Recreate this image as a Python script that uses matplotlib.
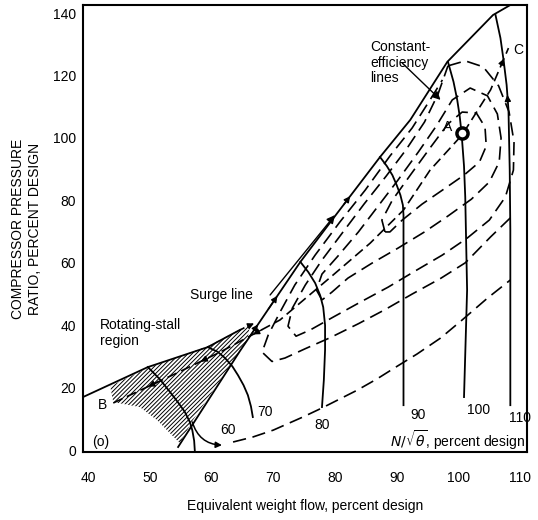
import matplotlib.pyplot as plt

plt.rcParams['font.family'] = ['Liberation Sans', 'DejaVu Sans']
plt.rcParams['hatch.linewidth'] = 0.7

# surge line and low-speed stall boundary (equivalent flow %, pressure ratio %)
surge_x = [54.6, 64.6, 74.4, 80.4, 87.3, 92.2, 98.2, 105.6, 108.4]
surge_y = [1.0, 31.7, 60.3, 76.0, 93.9, 105.8, 124.4, 139.4, 142.6]
stall_x = [39.2, 49.7, 59.4, 64.6]
stall_y = [17.0, 26.6, 33.0, 38.5]
stall_ext_x = [64.6, 66.9]
stall_ext_y = [38.5, 40.6]

# hatched rotating-stall region
hatch_x = [43.6, 49.7, 59.4, 66.3, 65.8, 61.4, 57.0, 54.9, 53.3, 51.2, 48.4, 44.1]
hatch_y = [20.5, 26.3, 33.3, 40.4, 35.3, 22.4, 9.6, 2.2, 5.4, 9.6, 13.8, 15.4]

# constant corrected-speed lines
speed_labels = ['60', '70', '80', '90', '100', '110']
speed_x = [
    [49.7, 51.6, 53.3, 54.7, 55.7, 56.5, 56.9, 57.2, 57.3],
    [59.4, 61.0, 62.2, 63.4, 64.3, 65.2, 65.9, 66.4, 66.7],
    [74.4, 75.7, 76.8, 77.6, 78.1, 78.4, 78.4, 78.2, 77.9],
    [87.3, 88.4, 89.3, 90.0, 90.6, 91.0, 91.1, 91.1, 91.1],
    [98.3, 99.2, 99.8, 100.2, 100.5, 100.9, 101.1, 101.4, 100.9],
    [106.0, 106.8, 107.3, 107.8, 108.1, 108.3, 108.4, 108.4],
]
speed_y = [
    [26.6, 22.8, 18.6, 15.0, 12.2, 9.0, 6.4, 3.0, 0.0],
    [33.0, 31.5, 29.5, 26.8, 24.0, 20.8, 17.6, 14.0, 10.6],
    [60.3, 57.0, 53.5, 49.6, 45.8, 40.0, 32.1, 22.4, 13.8],
    [93.9, 91.0, 88.1, 84.9, 81.7, 78.5, 75.3, 48.1, 14.4],
    [124.4, 118.0, 112.2, 107.0, 101.6, 91.0, 81.1, 51.3, 17.0],
    [139.4, 132.0, 125.0, 117.0, 109.0, 90.0, 70.5, 14.4],
]
speed_label_x = [62.7, 68.7, 77.9, 93.5, 103.2, 109.9]
speed_label_y = [6.4, 12.2, 8.0, 11.2, 12.8, 10.3]

# constant-efficiency lines (dashed)
eff_x = [
    [88.1, 87.6, 89.3, 92.2, 95.4, 98.3, 100.6, 102.9, 104.3, 104.5, 103.4, 100.9,
     97.7, 94.1, 90.9, 88.9, 88.1],
    [77.9, 77.0, 77.9, 80.5, 83.8, 87.0, 90.2, 93.5, 96.4, 99.0, 101.9, 104.7,
     106.3, 106.9, 106.6, 105.0, 102.1, 98.3, 94.5, 90.2, 86.0, 82.1, 79.5, 77.9],
    [98.3, 101.1, 104.0, 106.5, 108.2, 109.0, 108.9, 107.6, 105.0, 101.4, 97.4, 93.0,
     88.6, 84.1, 79.7, 76.0, 73.7, 72.4, 73.1, 75.2, 77.9, 81.2, 84.7, 88.3, 91.5,
     94.5, 96.7, 98.3],
    [108.4, 105.2, 101.1, 97.1, 92.5, 88.1, 83.8, 79.2, 75.2, 71.9, 69.8, 68.2, 69.2,
     71.1, 73.5, 76.8, 80.8, 84.9, 88.9, 92.5, 95.4, 97.4],
    [63.5, 66.7, 70.0, 74.8, 77.9, 80.4, 83.6, 86.8, 90.1, 93.3, 97.1, 100.6, 104.7, 108.4],
]
eff_y = [
    [69.9, 73.7, 80.1, 88.1, 96.8, 104.5, 108.3, 108.0, 103.5, 97.4, 92.3, 88.1,
     83.7, 78.8, 73.7, 69.9, 69.9],
    [48.1, 51.3, 56.4, 62.2, 69.9, 78.2, 86.5, 95.5, 103.8, 112.2, 116.0, 113.5,
     107.7, 100.0, 92.3, 85.9, 80.4, 75.0, 69.9, 64.7, 59.9, 55.1, 50.6, 48.1],
    [123.1, 124.7, 122.8, 116.7, 108.3, 98.7, 89.7, 81.1, 73.7, 67.9, 62.5, 57.4,
     52.2, 47.4, 42.6, 38.5, 36.5, 39.7, 45.5, 52.9, 60.9, 69.6, 78.8, 87.8, 96.2,
     105.1, 114.1, 123.1],
    [74.4, 68.3, 60.0, 55.0, 50.0, 45.0, 40.5, 36.0, 32.5, 29.5, 28.4, 31.4, 36.9,
     44.2, 52.9, 62.5, 73.1, 83.3, 94.2, 103.2, 112.2, 118.6],
    [2.6, 4.2, 6.4, 10.6, 13.5, 16.0, 19.2, 22.8, 26.9, 30.8, 35.9, 41.7, 48.7, 54.5],
]

# operating line B - A - C
bc_x = [44.1, 54.4, 61.4, 71.1, 79.7, 85.7, 91.1, 95.4, 100.6, 105.2, 108.1]
bc_y = [15.1, 24.7, 31.4, 41.7, 56.1, 66.3, 76.9, 89.7, 101.0, 115.4, 128.8]
design_x, design_y = 100.5, 101.6


def arrow_on(ax, xs, ys, i, frac=0.5, back=False, size=9):
    # small arrowhead sitting on segment i of a polyline
    x0, y0, x1, y1 = xs[i], ys[i], xs[i + 1], ys[i + 1]
    if back:
        x0, y0, x1, y1 = x1, y1, x0, y0
    hx, hy = x0 + frac * (x1 - x0), y0 + frac * (y1 - y0)
    tx, ty = hx - 0.15 * (x1 - x0), hy - 0.15 * (y1 - y0)
    ax.annotate('', xy=(hx, hy), xytext=(tx, ty),
                arrowprops=dict(arrowstyle='-|>', color='k', lw=1.0,
                                mutation_scale=size, shrinkA=0, shrinkB=0))


fig = plt.figure(figsize=(5.38, 5.2), dpi=100)
ax = fig.add_axes([83 / 538, 68 / 520, 444 / 538, 447 / 520])

ax.fill(hatch_x, hatch_y, facecolor='none', edgecolor='k', linewidth=0, hatch='////////')

ax.plot(surge_x, surge_y, color='k', lw=1.3)
ax.plot(stall_x, stall_y, color='k', lw=1.3)
ax.plot(stall_ext_x, stall_ext_y, color='k', lw=1.2, dashes=(3, 2))
arrow_on(ax, stall_ext_x, stall_ext_y, 0, frac=1.0)
arrow_on(ax, surge_x, surge_y, 1, frac=0.3)
arrow_on(ax, surge_x, surge_y, 1, frac=0.62)
arrow_on(ax, surge_x, surge_y, 3, frac=0.3)

for xs, ys in zip(speed_x, speed_y):
    ax.plot(xs, ys, color='k', lw=1.3)
for lab, lx, ly in zip(speed_labels, speed_label_x, speed_label_y):
    ax.text(lx, ly, lab, fontsize=10, ha='center', va='center')
arrow_on(ax, speed_x[5], speed_y[5], 3, frac=0.6, back=True)

ax.annotate('', xy=(61.7, 1.6), xytext=(56.9, 9.0),
            arrowprops=dict(arrowstyle='-|>', color='k', lw=1.1, mutation_scale=9,
                            connectionstyle='arc3,rad=0.35', shrinkA=0, shrinkB=0))

for xs, ys in zip(eff_x, eff_y):
    ax.plot(xs, ys, color='k', lw=1.2, dashes=(8, 4))

ax.plot(bc_x, bc_y, color='k', lw=1.2, dashes=(6, 3))
for i in range(3):
    arrow_on(ax, bc_x, bc_y, i, frac=0.45, back=True)
arrow_on(ax, bc_x, bc_y, 9, frac=0.75)
ax.plot(design_x, design_y, 'o', ms=8, mfc='white', mec='k', mew=2.5)

ax.text(98.3, 103.5, 'A', fontsize=10, ha='center', va='center')
ax.text(42.4, 14.4, 'B', fontsize=10, ha='center', va='center')
ax.text(109.7, 128.2, 'C', fontsize=10, ha='center', va='center')
ax.text(40.6, 2.6, '(o)', fontsize=10, ha='left', va='center')
ax.text(110.8, 3.2, r'$N/\sqrt{\theta}$, percent design', fontsize=10, ha='right', va='center')

ax.text(41.9, 42.3, 'Rotating-stall\nregion', fontsize=10, ha='left', va='top',
        linespacing=1.15)
ax.text(56.5, 49.7, 'Surge line', fontsize=10, ha='left', va='center')
ax.annotate('', xy=(80.0, 75.3), xytext=(69.5, 49.7),
            arrowprops=dict(arrowstyle='-|>', color='k', lw=1.0, mutation_scale=12,
                            shrinkA=0, shrinkB=0))
ax.text(85.7, 131.4, 'Constant-\nefficiency\nlines', fontsize=10, ha='left', va='top',
        linespacing=1.15)
ax.annotate('', xy=(97.1, 112.2), xytext=(90.9, 124.0),
            arrowprops=dict(arrowstyle='-|>', color='k', lw=1.0, mutation_scale=12,
                            shrinkA=0, shrinkB=0))

ax.set_xlim(39.2, 111.1)
ax.set_ylim(-0.6, 142.6)
ax.set_xticks(range(40, 111, 10))
ax.set_yticks(range(0, 141, 20))
ax.tick_params(axis='x', length=0, pad=14, labelsize=10)
ax.tick_params(axis='y', length=0, pad=5, labelsize=10)
for sp in ax.spines.values():
    sp.set_linewidth(1.5)
ax.set_xlabel('Equivalent weight flow, percent design', fontsize=10, labelpad=10)
ax.set_ylabel('COMPRESSOR PRESSURE\nRATIO, PERCENT DESIGN', fontsize=10, labelpad=8)

fig.savefig('out.png', dpi=100)
